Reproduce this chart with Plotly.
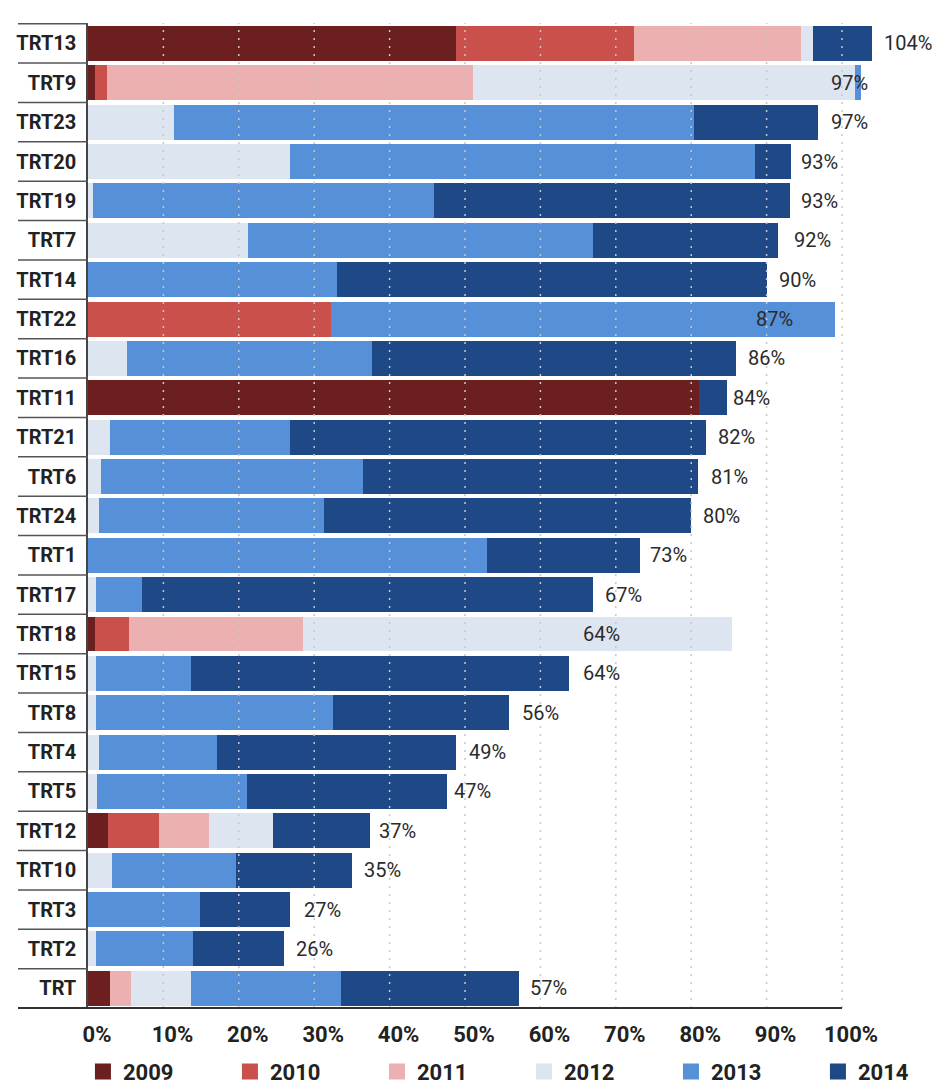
import plotly.graph_objects as go

# Categories, top to bottom
categories = ["TRT13", "TRT9", "TRT23", "TRT20", "TRT19", "TRT7", "TRT14", "TRT22",
              "TRT16", "TRT11", "TRT21", "TRT6", "TRT24", "TRT1", "TRT17", "TRT18",
              "TRT15", "TRT8", "TRT4", "TRT5", "TRT12", "TRT10", "TRT3", "TRT2", "TRT"]

years = ["2009", "2010", "2011", "2012", "2013", "2014"]

v2009 = [48.8, 0.9, 0, 0, 0, 0, 0, 0, 0, 81.0, 0, 0, 0, 0, 0, 0.9, 0, 0, 0, 0, 2.7, 0, 0, 0, 2.9]
v2010 = [23.6, 1.6, 0, 0, 0, 0, 0, 32.2, 0, 0, 0, 0, 0, 0, 0, 4.5, 0, 0, 0, 0, 6.7, 0, 0, 0, 0]
v2011 = [22.2, 48.5, 0, 0, 0, 0, 0, 0, 0, 0, 0, 0, 0, 0, 0, 23.1, 0, 0, 0, 0, 6.7, 0, 0, 0, 2.8]
v2012 = [1.6, 50.7, 11.4, 26.8, 0.6, 21.2, 0, 0, 5.2, 0, 2.9, 1.7, 1.4, 0, 1.1, 56.9, 1.0, 1.0,
         1.4, 1.2, 8.5, 3.2, 0, 1.0, 7.9]
v2013 = [0, 0.8, 69.0, 61.7, 45.3, 45.8, 33.0, 66.9, 32.5, 0, 23.9, 34.8, 29.9, 52.9, 6.1, 0,
         12.6, 31.5, 15.7, 19.9, 0, 16.4, 14.9, 12.9, 19.9]
v2014 = [7.8, 0, 16.4, 4.8, 47.2, 24.5, 57.0, 0, 48.2, 3.7, 55.2, 44.4, 48.7, 20.3, 59.8, 0,
         50.2, 23.3, 31.7, 26.5, 12.8, 15.4, 11.9, 12.1, 23.6]

# Stated totals per category
totals = [104, 97, 97, 93, 93, 92, 90, 87, 86, 84, 82, 81, 80, 73, 67, 64, 64, 56, 49, 47,
          37, 35, 27, 26, 57]

x_ticks = [0, 10, 20, 30, 40, 50, 60, 70, 80, 90, 100]
x_ticktext = [f"{t}%" for t in x_ticks]

colors = ["#6b1f1f", "#c9504b", "#ecb0b0", "#dde5f1", "#5590d9", "#1e4886"]
series = [v2009, v2010, v2011, v2012, v2013, v2014]

FONT = "Roboto, Liberation Sans, sans-serif"
XMAX = 111.67

fig = go.Figure()
for name, vals, col in zip(years, series, colors):
    fig.add_trace(go.Bar(
        y=categories, x=vals, name=name, orientation="h",
        marker=dict(color=col, line=dict(width=0)),
        showlegend=False, legendgroup=name, hoverinfo="x+name",
    ))
    # legend swatch
    fig.add_trace(go.Scatter(
        x=[None], y=[None], mode="markers", name=name, legendgroup=name,
        marker=dict(symbol="square", size=16, color=col),
    ))

# value labels
for cat, tot in zip(categories, totals):
    fig.add_annotation(x=tot, y=cat, text=f"{tot}%", showarrow=False,
                       xanchor="left", xshift=10,
                       font=dict(family=FONT, size=20, color="#2b2b2b"))

shapes = []
# dotted gridlines drawn over the bars
for t in x_ticks[1:]:
    shapes.append(dict(type="line", xref="x", yref="paper", x0=t, x1=t, y0=0, y1=1,
                       layer="above", line=dict(color="#c8c8c8", width=1.5, dash="2px,6px")))
# row separators in the label column
n = len(categories)
for i in range(n):
    shapes.append(dict(type="line", xref="paper", yref="y", x0=-70 / 842, x1=0,
                       y0=i - 0.5, y1=i - 0.5, line=dict(color="#555555", width=1.5)))
# baseline
shapes.append(dict(type="line", xref="paper", yref="paper", x0=-70 / 842, x1=100 / XMAX,
                   y0=0, y1=0, line=dict(color="#333333", width=2)))

fig.update_layout(
    width=938, height=1084,
    margin=dict(l=88, r=8, t=23, b=76, autoexpand=False),
    barmode="stack", bargap=0.112,
    plot_bgcolor="white", paper_bgcolor="white",
    shapes=shapes,
    showlegend=True,
    legend=dict(orientation="h", x=-0.006, xanchor="left", y=-0.0434, yanchor="top",
                font=dict(family=FONT, size=22, color="#222222", weight="bold"),
                entrywidth=102, itemsizing="trace", traceorder="normal"),
    xaxis=dict(range=[0, XMAX], tickvals=x_ticks, ticktext=x_ticktext,
               showgrid=False, zeroline=False, showline=False, ticks="",
               ticklabelshift=9, ticklabelstandoff=11, automargin=False,
               tickfont=dict(family=FONT, size=22, color="#222222", weight="bold")),
    yaxis=dict(autorange="reversed", showgrid=False, zeroline=False,
               showline=True, linecolor="#444444", linewidth=1.5, ticks="",
               ticklabelstandoff=6, automargin=False,
               tickfont=dict(family=FONT, size=20, color="#222222", weight="bold")),
)

fig.write_html("out.html")
